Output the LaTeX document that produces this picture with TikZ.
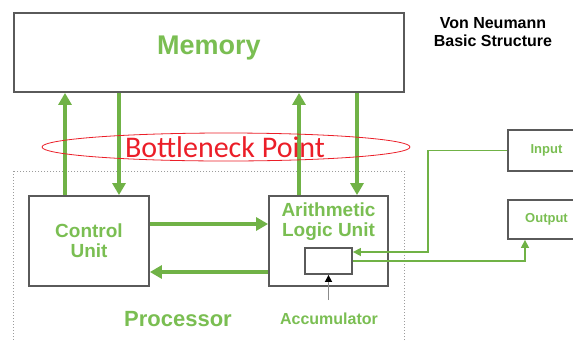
\documentclass[tikz,border=0pt]{standalone}
\usepackage{fontspec}
\usepackage{tikz}
\usetikzlibrary{arrows.meta, positioning, calc}
\setmainfont{Liberation Sans}
\newfontfamily\bnfont{Carlito}
\definecolor{vngreen}{RGB}{112,178,70}
\definecolor{vntext}{RGB}{122,190,82}
\definecolor{vngray}{RGB}{90,90,90}
\definecolor{vnred}{RGB}{235,30,40}

\begin{document}
\begin{tikzpicture}[x=1pt, y=-1pt,
    unitbox/.style={draw=vngray, line width=1.8pt, rectangle, inner sep=0pt},
    lbl/.style={text=vntext, align=center},
    busarrow/.style={draw=vngreen, line width=4pt, -{Triangle[length=12pt, width=13pt]}},
    ioarrow/.style={draw=vngreen, line width=1.5pt, -{Triangle[length=8pt, width=8pt]}}]
  \useasboundingbox (0,0) rectangle (573,341);
  \clip (0,0) rectangle (573,341);
  % Processor frame
  \draw[vngray!60, dotted, line width=1pt] (13,171) rectangle (404,360);
  % Memory
  \node[unitbox, minimum width=390pt, minimum height=79pt] (mem) at (209,52.5) {};
  \node[lbl, font=\bfseries\fontsize{27}{30}\selectfont] (memlbl) at (209,48) {Memory};
  \node[font=\bfseries\fontsize{16}{18}\selectfont, align=center] (title) at (493,32)
       {Von Neumann\\Basic Structure};
  % Processor units
  \node[unitbox, minimum width=120pt, minimum height=90pt, lbl,
        font=\bfseries\fontsize{19}{20}\selectfont] (cu) at (89,241) {Control\\Unit};
  \node[unitbox, minimum width=119pt, minimum height=90pt] (alu) at (328.5,241) {};
  \node[lbl, font=\bfseries\fontsize{19}{20}\selectfont, anchor=north] (alulbl)
       at ([yshift=-4pt]alu.north) {Arithmetic\\Logic Unit};
  \node[unitbox, minimum width=47pt, minimum height=26pt] (acc) at (328.5,261) {};
  \node[lbl, font=\bfseries\fontsize{22}{24}\selectfont] (proc) at (178,319) {Processor};
  \node[lbl, font=\bfseries\fontsize{16}{18}\selectfont] (acclbl) at (329,319) {Accumulator};
  % I/O devices
  \node[unitbox, minimum width=77pt, minimum height=41pt, lbl,
        font=\bfseries\fontsize{13}{15}\selectfont] (inp) at (546.5,150.5) {Input};
  \node[unitbox, minimum width=77pt, minimum height=39pt, lbl,
        font=\bfseries\fontsize{13}{15}\selectfont] (outp) at (546.5,219.5) {Output};
  % Buses to and from memory
  \draw[busarrow] ([xshift=-24pt]cu.north) -- ([xshift=-24pt]cu.north |- mem.south);
  \draw[busarrow] ([xshift=30pt]cu.north |- mem.south) -- ([xshift=30pt]cu.north);
  \draw[busarrow] ([xshift=-29.5pt]alu.north) -- ([xshift=-29.5pt]alu.north |- mem.south);
  \draw[busarrow] ([xshift=28.5pt]alu.north |- mem.south) -- ([xshift=28.5pt]alu.north);
  \draw[busarrow] ([yshift=17pt]cu.east) -- ([yshift=17pt]cu.east -| alu.west);
  \draw[busarrow] ([yshift=-31pt]alu.west) -- ([yshift=-31pt]alu.west -| cu.east);
  % Accumulator links
  \draw[ioarrow] (inp.west) -- ++(-79,0) |- ([yshift=9pt]acc.east);
  \draw[ioarrow] (acc.east) -| ([xshift=-21.5pt]outp.south);
  \coordinate (accin) at (328.5,300);
  \draw[vngray!70, line width=1.5pt, -{Triangle[length=7pt, width=7pt, black]}] (accin) -- (acc.south);
  % Bottleneck
  \draw[vnred, line width=0.8pt] (226,147) ellipse [x radius=184pt, y radius=14pt];
  \node[text=vnred, font=\bnfont\fontsize{30}{32}\selectfont] (neck) at (225,147) {Bottleneck Point};
\end{tikzpicture}
\end{document}
